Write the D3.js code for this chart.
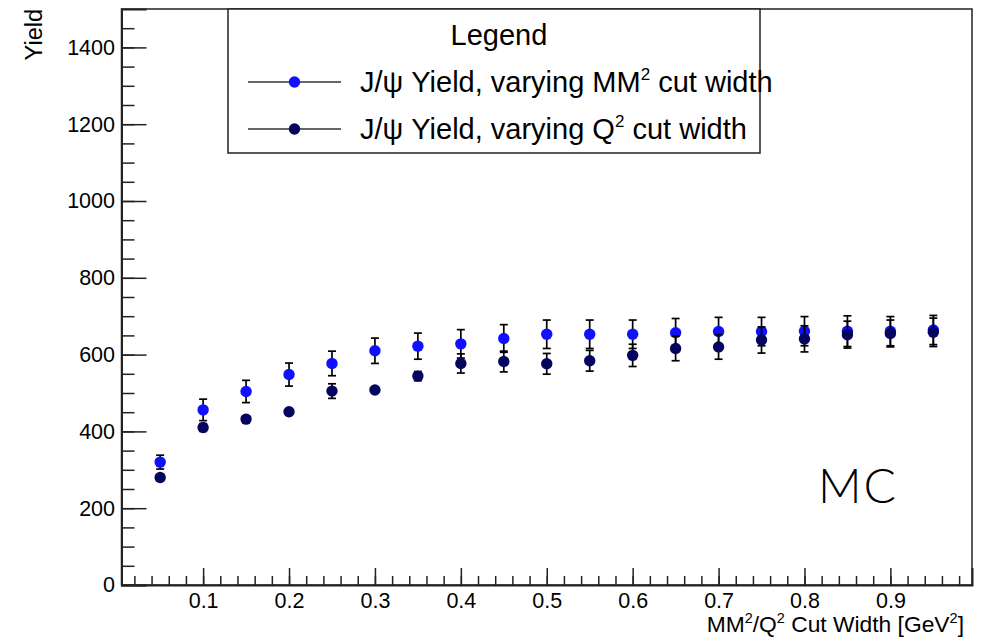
<!DOCTYPE html>
<html>
<head>
<meta charset="utf-8">
<script src="https://cdn.jsdelivr.net/npm/d3@7"></script>
<style>
  html, body { margin: 0; padding: 0; background: #fff; }
  svg { display: block; font-family: "Liberation Sans", Arial, Helvetica, sans-serif; }
</style>
</head>
<body>
<svg id="chart" width="993" height="639"></svg>
<script>
// Cut widths (GeV^2) at which the J/psi yield was extracted
const cutWidths = [0.05, 0.10, 0.15, 0.20, 0.25, 0.30, 0.35, 0.40, 0.45, 0.50,
                   0.55, 0.60, 0.65, 0.70, 0.75, 0.80, 0.85, 0.90, 0.95];

// Yield while varying the MM^2 cut width
const yieldMM2 = [320, 456, 504, 548, 577, 610, 622, 628, 642, 653,
                  653, 653, 657, 660, 660, 661, 661, 661, 664];
const errMM2   = [18, 28, 29, 30, 32, 33, 34, 37, 36, 37,
                  37, 37, 37, 37, 37, 38, 40, 38, 38];

// Yield while varying the Q^2 cut width
const yieldQ2 = [280, 410, 432, 451, 505, 508, 544, 577, 582, 576,
                 584, 598, 616, 620, 638, 641, 652, 655, 658];
const errQ2   = [8, 10, 8, 8, 19, 8, 12, 25, 27, 27,
                 27, 29, 32, 32, 34, 34, 35, 35, 37];

// Axis ticks
const xTickValues = [0.1, 0.2, 0.3, 0.4, 0.5, 0.6, 0.7, 0.8, 0.9];
const xTickLabels = ["0.1", "0.2", "0.3", "0.4", "0.5", "0.6", "0.7", "0.8", "0.9"];
const yTickValues = [0, 200, 400, 600, 800, 1000, 1200, 1400];
const yTickLabels = ["0", "200", "400", "600", "800", "1000", "1200", "1400"];

const series = [
  { name: "MM2", label: ["J/\u03C8 Yield, varying MM", "2", " cut width"], values: yieldMM2, errors: errMM2, color: "#1010ff" },
  { name: "Q2",  label: ["J/\u03C8 Yield, varying Q", "2", " cut width"],  values: yieldQ2,  errors: errQ2,  color: "#05055f" }
];

const svg = d3.select("#chart");
const frame = { left: 121.5, right: 972, top: 9, bottom: 585 };

const x = d3.scaleLinear().domain([0.005, 0.995]).range([frame.left, frame.right]);
const y = d3.scaleLinear().domain([0, 1500]).range([frame.bottom, frame.top]);

const axisColor = "#222";
const labelFont = "Liberation Sans, Arial, sans-serif";

// Frame
svg.append("rect")
  .attr("x", frame.left).attr("y", frame.top)
  .attr("width", frame.right - frame.left).attr("height", frame.bottom - frame.top)
  .attr("fill", "none").attr("stroke", axisColor).attr("stroke-width", 1.5);

// X axis: major ticks every 0.1, minor every 0.02, pointing into the frame
const xMinor = d3.range(0.02, 0.99, 0.02).map(v => +v.toFixed(2));
const xAxisMinor = d3.axisBottom(x).tickValues(xMinor).tickSize(-9).tickFormat("");
const xAxisMajor = d3.axisBottom(x).tickValues(xTickValues).tickSize(-17)
  .tickFormat((d, i) => xTickLabels[i]).tickPadding(8);

svg.append("g").attr("transform", `translate(0,${frame.bottom})`).call(xAxisMinor)
  .call(g => g.select(".domain").remove())
  .call(g => g.selectAll("line").attr("stroke", axisColor).attr("stroke-width", 1.5));
svg.append("g").attr("transform", `translate(0,${frame.bottom})`).call(xAxisMajor)
  .call(g => g.select(".domain").attr("stroke", axisColor).attr("stroke-width", 2))
  .call(g => g.selectAll("line").attr("stroke", axisColor).attr("stroke-width", 1.5))
  .call(g => g.selectAll("text").attr("font-size", 21.5).attr("fill", "#000")
    .attr("font-family", labelFont));

// Y axis: major ticks every 200, minor every 50
const yMinor = d3.range(50, 1500, 50);
const yAxisMinor = d3.axisLeft(y).tickValues(yMinor).tickSize(-13).tickFormat("");
const yAxisMajor = d3.axisLeft(y).tickValues(yTickValues).tickSize(-25)
  .tickFormat((d, i) => yTickLabels[i]).tickPadding(6.5);

svg.append("g").attr("transform", `translate(${frame.left},0)`).call(yAxisMinor)
  .call(g => g.select(".domain").remove())
  .call(g => g.selectAll("line").attr("stroke", axisColor).attr("stroke-width", 1.5));
svg.append("g").attr("transform", `translate(${frame.left},0)`).call(yAxisMajor)
  .call(g => g.select(".domain").attr("stroke", axisColor).attr("stroke-width", 2))
  .call(g => g.selectAll("line").attr("stroke", axisColor).attr("stroke-width", 1.5))
  .call(g => g.selectAll("text").attr("font-size", 21.5).attr("fill", "#000")
    .attr("font-family", labelFont));

// Axis titles
const xTitle = svg.append("text")
  .attr("x", 964).attr("y", 632)
  .attr("text-anchor", "end").attr("font-size", 22.8).attr("fill", "#000");
xTitle.append("tspan").text("MM");
xTitle.append("tspan").text("2").attr("font-size", 14.5).attr("dy", -9);
xTitle.append("tspan").text("/Q").attr("dy", 9);
xTitle.append("tspan").text("2").attr("font-size", 14.5).attr("dy", -9);
xTitle.append("tspan").text(" Cut Width [GeV").attr("dy", 9);
xTitle.append("tspan").text("2").attr("font-size", 14.5).attr("dy", -9);
xTitle.append("tspan").text("]").attr("dy", 9);

svg.append("text")
  .attr("transform", "translate(42,9) rotate(-90)")
  .attr("text-anchor", "end").attr("font-size", 23.5).attr("fill", "#000")
  .text("Yield");

// Data: error bars then markers, one graph after the other
const capHalf = 4;
series.forEach(s => {
  const g = svg.append("g").attr("class", "series-" + s.name);
  const pts = cutWidths.map((c, i) => ({ c, v: s.values[i], e: s.errors[i] }));
  const eb = g.selectAll("g.err").data(pts).join("g").attr("class", "err")
    .attr("stroke", "#000").attr("stroke-width", 1.7);
  eb.append("line")
    .attr("x1", d => x(d.c)).attr("x2", d => x(d.c))
    .attr("y1", d => y(d.v + d.e)).attr("y2", d => y(d.v - d.e));
  eb.append("line")
    .attr("x1", d => x(d.c) - capHalf).attr("x2", d => x(d.c) + capHalf)
    .attr("y1", d => y(d.v + d.e)).attr("y2", d => y(d.v + d.e));
  eb.append("line")
    .attr("x1", d => x(d.c) - capHalf).attr("x2", d => x(d.c) + capHalf)
    .attr("y1", d => y(d.v - d.e)).attr("y2", d => y(d.v - d.e));
  g.selectAll("circle").data(pts).join("circle")
    .attr("cx", d => x(d.c)).attr("cy", d => y(d.v))
    .attr("r", 5.7).attr("fill", s.color);
});

// Legend
const legend = { x0: 228, x1: 760, y0: 9, y1: 153 };
svg.append("rect")
  .attr("x", legend.x0).attr("y", legend.y0)
  .attr("width", legend.x1 - legend.x0).attr("height", legend.y1 - legend.y0)
  .attr("fill", "#fff").attr("stroke", axisColor).attr("stroke-width", 1.5);
svg.append("text")
  .attr("x", 499).attr("y", 45)
  .attr("text-anchor", "middle").attr("font-size", 29).attr("fill", "#000")
  .text("Legend");

const legendRows = [82, 129];
series.forEach((s, i) => {
  const ly = legendRows[i];
  svg.append("line").attr("x1", 248).attr("x2", 341).attr("y1", ly).attr("y2", ly)
    .attr("stroke", "#333").attr("stroke-width", 1.5);
  svg.append("circle").attr("cx", 294.5).attr("cy", ly).attr("r", 5.7).attr("fill", s.color);
  const t = svg.append("text").attr("x", 360).attr("y", ly + 10)
    .attr("font-size", 29).attr("fill", "#000");
  t.append("tspan").text(s.label[0]);
  t.append("tspan").text(s.label[1]).attr("font-size", 17).attr("dy", -12);
  t.append("tspan").text(s.label[2]).attr("dy", 12);
});

// Sample tag
svg.append("text")
  .attr("x", 818).attr("y", 503)
  .attr("font-size", 48).attr("font-weight", 300).attr("letter-spacing", 2)
  .attr("font-family", "Lato, 'Open Sans', sans-serif").attr("fill", "#000")
  .text("MC");
</script>
</body>
</html>
